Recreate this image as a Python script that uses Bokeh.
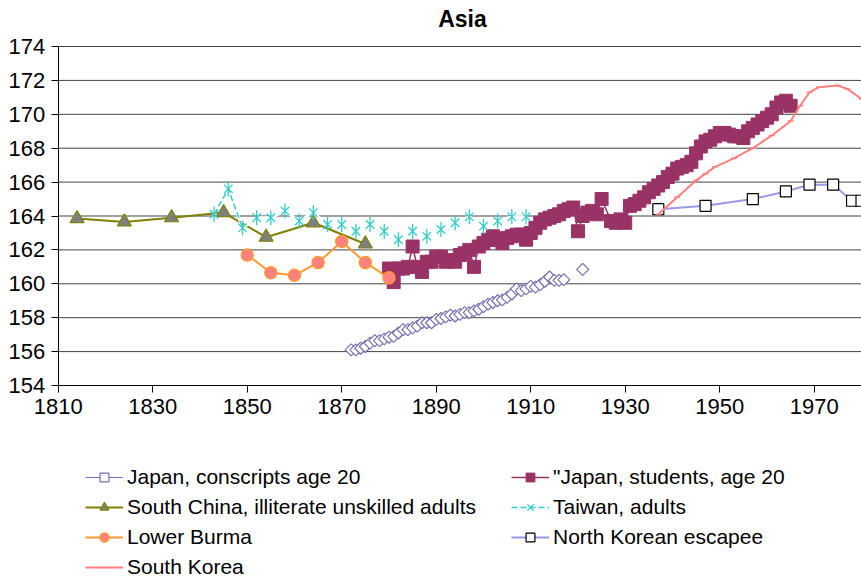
from bokeh.plotting import figure
from bokeh.models import Legend, LegendItem, FixedTicker, Range1d, Label
from bokeh.embed import file_html
from bokeh.resources import INLINE

NAN = float("nan")

# ---- data ----
conscript_years = list(range(1872, 1922))
conscript_h = [156.1, 156.1, 156.2, 156.3, 156.5, 156.65, 156.65, 156.75, 156.85, 156.9,
               157.1, 157.3, 157.3, 157.4, 157.5, 157.7, 157.7, 157.7, 157.9, 157.95,
               158.05, 158.15, 158.1, 158.2, 158.3, 158.3, 158.4, 158.5, 158.65, 158.8,
               158.9, 159.0, 159.05, 159.2, 159.4, 159.7, 159.6, 159.7, 159.85, 159.8,
               159.95, 160.15, 160.4, 160.2, 160.2, 160.25, NAN, NAN, NAN, 160.85]

student_years = list(range(1880, 1926)) + list(range(1927, 1966))
student_h = [160.9, 160.1, 160.9, 160.9, 161.0, 162.2, 161.0, 160.7, 161.3, 161.3,
             161.6, 161.6, 161.3, 161.4, 161.3, 161.7, 161.8, 162.0, 161.0, 162.2,
             162.4, 162.6, 162.8, 162.6, 162.4, 162.7, 162.8, 162.9, 162.9, 162.6,
             163.0, 163.3, 163.6, 163.8, 163.9, 164.0, 164.1, 164.3, 164.4, 164.5,
             163.1, 164.0, 164.2, 164.3, 164.1, 165.0,
             163.7, 163.6, 163.8, 163.6, 164.6, 164.7, 164.9, 165.1, 165.4, 165.6,
             165.8, 166.0, 166.3, 166.5, 166.8, 166.9, 167.0, 167.2, 167.7, 168.1,
             168.4, 168.5, 168.7, 168.9, 168.9, 168.8, 168.7, 168.7, 168.6, 169.0,
             169.2, 169.4, 169.6, 169.8, 170.0, 170.4, 170.7, 170.8, 170.5]

schina_years = [1814, 1824, 1834, 1845, 1854, 1864, 1875]
schina_h = [163.85, 163.65, 163.9, 164.2, 162.75, 163.6, 162.35]

taiwan_years = [1843, 1846, 1849, 1852, 1855, 1858, 1861, 1864, 1867, 1870, 1873, 1876,
                1879, 1882, 1885, 1888, 1891, 1894, 1897, 1900, 1903, 1906, 1909]
taiwan_h = [164.1, 165.6, 163.3, 163.9, 163.9, 164.3, 163.7, 164.2, 163.5, 163.5, 163.1, 163.5,
            163.1, 162.6, 163.1, 162.8, 163.2, 163.6, 163.95, 163.4, 163.7, 163.95, 163.95]

burma_years = [1850, 1855, 1860, 1865, 1870, 1875, 1880]
burma_h = [161.7, 160.65, 160.5, 161.25, 162.5, 161.25, 160.35]

nk_years = [1937, 1947, 1957, 1964, 1969, 1974, 1978, 1980]
nk_h = [164.4, 164.6, 165.0, 165.45, 165.85, 165.85, 164.9, 164.9]

sk_years = [1937, 1941, 1945, 1947, 1949, 1953, 1957, 1961, 1965, 1967, 1969, 1971, 1975, 1977, 1980]
sk_h = [164.1, 165.1, 166.1, 166.5, 166.9, 167.4, 168.0, 168.75, 169.6, 170.5, 171.3, 171.6,
        171.7, 171.5, 170.9]

x_ticks = [1810, 1830, 1850, 1870, 1890, 1910, 1930, 1950, 1970]
y_ticks = list(range(154, 176, 2))
x_min, x_max = 1810, 1980
y_min, y_max = 154, 174
title_text = "Asia"

FONT = "Liberation Sans"
W, H = 861, 577

# The frame covers the whole page; axes are pinned at x=1810 / y=154 so that
# tick labels, the title and the legend all sit inside it.
ax_left, ax_top, ax_bottom = 57.7, 46, 385
px_x = (W - ax_left) / (x_max - x_min)
x_low = x_min - ax_left / px_x
px_y = (ax_bottom - ax_top) / (y_max - y_min)
y_low = y_min - (H - ax_bottom) / px_y
y_high = y_max + ax_top / px_y

p = figure(width=W, height=H, output_backend="svg", toolbar_location=None,
           x_range=Range1d(x_low, x_max), y_range=Range1d(y_low, y_high),
           min_border_left=0, min_border_right=0, min_border_top=0, min_border_bottom=0)
p.outline_line_color = None
p.background_fill_color = "white"

p.xgrid.visible = False
p.ygrid.visible = False

# horizontal gridlines between the axes
p.segment(x0=[x_min] * len(y_ticks), y0=y_ticks, x1=[x_max] * len(y_ticks), y1=y_ticks,
          line_color="#444444", line_width=1)

for ax in (p.xaxis, p.yaxis):
    ax.axis_line_color = "black"
    ax.major_tick_line_color = "black"
    ax.minor_tick_line_color = None
    ax.major_tick_in = 0
    ax.major_tick_out = 7
    ax.major_label_standoff = 6
    ax.major_label_text_font = FONT
    ax.major_label_text_font_size = "22px"
    ax.major_label_text_color = "black"
p.xaxis.ticker = FixedTicker(ticks=x_ticks)
p.xaxis.fixed_location = y_min
p.xaxis.bounds = (x_min, x_max)
p.yaxis.ticker = FixedTicker(ticks=y_ticks)
p.yaxis.fixed_location = x_min
p.yaxis.bounds = (y_min, y_max)

# title
p.add_layout(Label(x=462, y=H - 18, x_units="screen", y_units="screen", text=title_text,
                   text_align="center", text_baseline="middle", text_font=FONT,
                   text_font_size="23px", text_font_style="bold", text_color="black"))

# 1 Japan conscripts
c_col = "#7470b0"
r1l = p.line(conscript_years, conscript_h, line_color=c_col, line_width=1.2)
r1m = p.scatter(conscript_years, conscript_h, marker="square", angle=0.785398, size=8.5,
                fill_color="white", line_color=c_col, line_width=1.2)
# 2 Japan students
s_col = "#993366"
r2l = p.line(student_years, student_h, line_color=s_col, line_width=1.5)
r2m = p.scatter(student_years, student_h, marker="square", size=13,
                fill_color=s_col, line_color=s_col)
# 3 South China
sc_col = "#808000"
r3l = p.line(schina_years, schina_h, line_color=sc_col, line_width=2)
r3m = p.scatter(schina_years, schina_h, marker="triangle", size=14,
                fill_color="#808080", line_color=sc_col, line_width=1.2)
# 4 Taiwan (six-armed star: an x plus a vertical stroke)
t_col = "#33cccc"
p.line(taiwan_years, taiwan_h, line_color="white", line_width=3)
r4l = p.line(taiwan_years[:3], taiwan_h[:3], line_color=t_col, line_width=1.5, line_dash="6 3")
r4m = p.scatter(taiwan_years, taiwan_h, marker="x", size=12,
                line_color=t_col, line_width=1.3)
p.scatter(taiwan_years, taiwan_h, marker="dash", angle=1.5708, size=15,
          line_color=t_col, line_width=1.3)
# 5 Lower Burma
b_col = "#ff9933"
r5l = p.line(burma_years, burma_h, line_color=b_col, line_width=2)
r5m = p.scatter(burma_years, burma_h, marker="circle", size=12,
                fill_color="#ff8080", line_color=b_col, line_width=1.5)
# 6 North Korean escapee
nk_col = "#9999e6"
r6l = p.line(nk_years, nk_h, line_color=nk_col, line_width=2)
r6m = p.scatter(nk_years, nk_h, marker="square", size=11,
                fill_color="white", line_color="black", line_width=1.2)
# 7 South Korea
sk_col = "#ff8080"
r7l = p.line(sk_years, sk_h, line_color=sk_col, line_width=2)
r7m = p.scatter(sk_years, sk_h, marker="dash", size=6, line_color=sk_col, line_width=1.5)

items = [
    LegendItem(label="Japan, conscripts age 20", renderers=[r1l, r1m]),
    LegendItem(label="\"Japan, students, age 20", renderers=[r2l, r2m]),
    LegendItem(label="South China, illiterate unskilled adults", renderers=[r3l, r3m]),
    LegendItem(label="Taiwan, adults", renderers=[r4l, r4m]),
    LegendItem(label="Lower Burma", renderers=[r5l, r5m]),
    LegendItem(label="North Korean escapee", renderers=[r6l, r6m]),
    LegendItem(label="South Korea", renderers=[r7l, r7m]),
]
legend = Legend(items=items, location=(85, -2), orientation="horizontal", ncols=2,
                glyph_width=38, glyph_height=22, label_height=22, label_width=378,
                label_standoff=4, spacing=6, padding=0, margin=0,
                label_text_font=FONT, label_text_font_size="21px", label_text_color="black",
                border_line_color=None, background_fill_alpha=0)
p.add_layout(legend, "center")

open("out.html", "w").write(file_html(p, INLINE))
